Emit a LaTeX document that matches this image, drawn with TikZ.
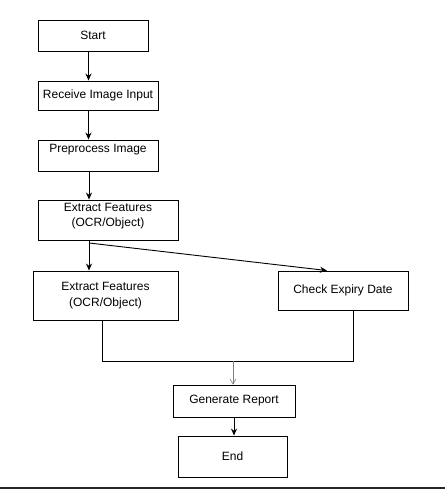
\documentclass[tikz,border=0pt]{standalone}
\usepackage{fontspec}
\setmainfont{Liberation Sans}
\usetikzlibrary{arrows.meta}
\begin{document}
\begin{tikzpicture}[x=1pt,y=-1pt,
  box/.style={draw=black, line width=0.9pt, inner sep=0pt, align=center,
    font=\fontsize{12}{15.5}\selectfont},
  arr/.style={draw=black, line width=0.9pt, -{Stealth[length=7pt,width=6pt]}},
  link/.style={draw=black, line width=0.9pt},
  grayarr/.style={draw=gray, line width=0.6pt, -{Straight Barb[length=5pt,width=6pt]}}]
\useasboundingbox[fill=white] (0,0) rectangle (445,489);
\node[box, minimum width=110pt, minimum height=31pt] (start) at (93,35.5) {Start};
\node[box, minimum width=120pt, minimum height=29pt] (recv) at (98,95.5) {Receive Image Input};
\node[box, minimum width=120pt, minimum height=31pt,
  label={[font=\fontsize{12}{15.5}\selectfont, anchor=north, yshift=-1pt]north:Preprocess Image}] (pre) at (98,155.5) {};
\node[box, minimum width=140pt, minimum height=40pt,
  label={[font=\fontsize{12}{15.5}\selectfont, anchor=north, align=center, yshift=0pt]north:Extract Features\\(OCR/Object)}] (ext1) at (108,220) {};
\node[box, minimum width=145pt, minimum height=49pt] (ext2) at (105.5,295.5) {Extract Features\\(OCR/Object)};
\node[box, minimum width=130pt, minimum height=39pt] (check) at (343,290.5) {Check Expiry Date};
\node[box, minimum width=122pt, minimum height=32pt] (gen) at (234,401) {Generate Report};
\node[box, minimum width=109pt, minimum height=41pt] (end) at (232.5,456.5) {End};
\coordinate (split) at (89,243);
\coordinate (joinL) at (102,361);
\coordinate (joinR) at (353,361);
\coordinate (joinM) at (233,361);
\draw[arr] (start.south -| 88.5,0) -- (recv.north -| 88.5,0);
\draw[arr] (recv.south -| 88.5,0) -- (pre.north -| 88.5,0);
\draw[arr] (pre.south -| 89,0) -- (ext1.north -| 89,0);
\draw[arr] (ext1.south -| 89,0) -- (ext2.north -| 89,0);
\draw[arr] (split) -- (check.north -| 327,0);
\draw[link] (ext2.south -| joinL) -- (joinL) -- (joinR) -- (check.south -| joinR);
\draw[grayarr] (joinM) -- (gen.north -| joinM);
\draw[arr] (gen.south -| 234,0) -- (end.north -| 234,0);
\draw[line width=1.5pt, draw=black!85] (0,488) -- (445,488);
\end{tikzpicture}
\end{document}
